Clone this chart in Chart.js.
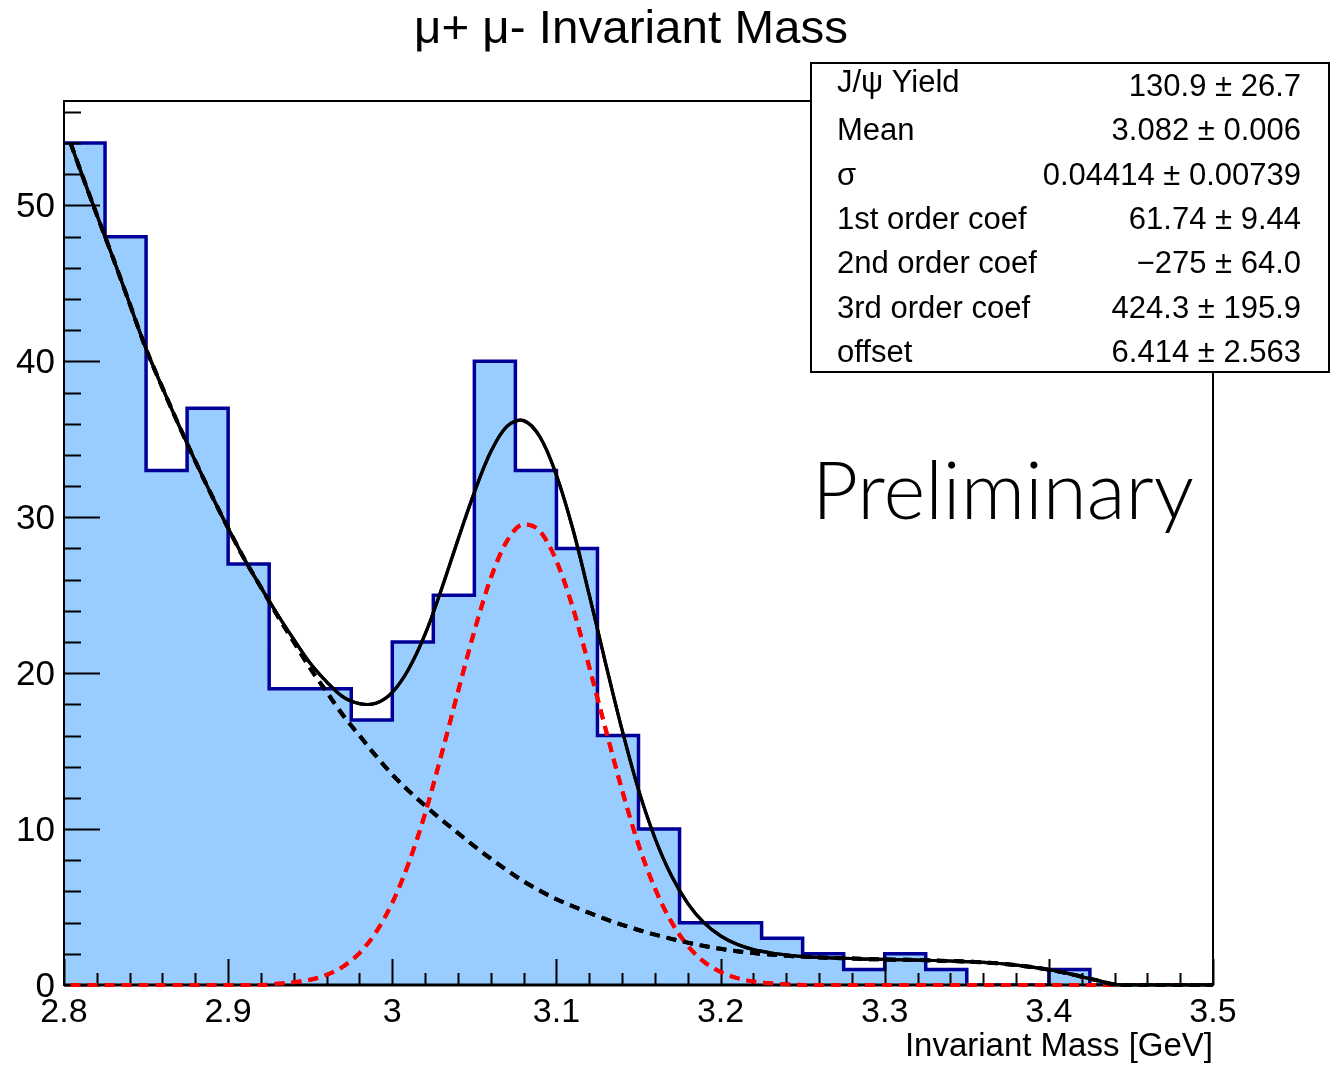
<!DOCTYPE html>
<html>
<head>
<meta charset="utf-8">
<script src="https://cdn.jsdelivr.net/npm/chart.js@4/dist/chart.umd.min.js"></script>
<style>
  body { margin: 0; background: #fff; }
  canvas { display: block; }
</style>
</head>
<body>
<canvas id="massChart" width="1334" height="1065"></canvas>
<script>
// histogram: 28 bins of 25 MeV from 2.8 to 3.5 GeV
const binLow = 2.8;
const binWidth = 0.025;
const counts = [54, 48, 33, 37, 27, 19, 19, 17, 22, 25, 40, 33, 28, 16, 10, 4, 4, 3, 2, 1, 2, 1, 0, 0, 1, 0, 0, 0];

const curveX = [2.804].concat(Array.from({ length: 70 }, (_, i) => +(2.81 + i * 0.01).toFixed(2)));

const totalFit = [54.0, 52.25, 49.4, 46.6, 43.7, 40.8, 38.3, 35.9, 33.6, 31.4,
    29.3, 27.3, 25.5, 23.78, 22.17, 20.64, 19.45, 18.48, 18.05, 18.07,
    18.77, 20.27, 22.5, 25.4, 28.55, 31.6, 34.2, 35.85, 36.2, 35.15,
    32.7, 29.25, 25.02, 20.62, 16.36, 12.53, 9.43, 7.02, 5.24, 3.98,
    3.15, 2.61, 2.27, 2.07, 1.93, 1.82, 1.77, 1.73, 1.7, 1.66,
    1.64, 1.62, 1.6, 1.57, 1.54, 1.5, 1.45, 1.38, 1.28, 1.15,
    0.98, 0.78, 0.53, 0.28, 0.03, 0, 0, 0, 0, 0, 0];

const backgroundFit = [54.0, 52.25, 49.4, 46.6, 43.7, 40.8, 38.3, 35.9, 33.6, 31.4,
    29.3, 27.3, 25.5, 23.7, 22.0, 20.3, 18.8, 17.3, 16.0, 14.7,
    13.5, 12.45, 11.5, 10.6, 9.75, 8.9, 8.1, 7.35, 6.65, 6.05,
    5.5, 5.05, 4.62, 4.22, 3.86, 3.53, 3.23, 2.96, 2.72, 2.5,
    2.32, 2.17, 2.05, 1.96, 1.88, 1.82, 1.77, 1.73, 1.7, 1.66,
    1.64, 1.62, 1.6, 1.57, 1.54, 1.5, 1.45, 1.38, 1.28, 1.15,
    0.98, 0.78, 0.53, 0.28, 0.03, 0, 0, 0, 0, 0, 0];

const signalFit = [0, 0, 0, 0, 0, 0, 0, 0, 0, 0,
    0, 0, 0, 0.08, 0.17, 0.34, 0.65, 1.18, 2.05, 3.37,
    5.27, 7.82, 11.0, 14.8, 18.8, 22.7, 26.1, 28.5, 29.55, 29.1,
    27.2, 24.2, 20.4, 16.4, 12.5, 9.0, 6.2, 4.06, 2.52, 1.48,
    0.83, 0.44, 0.22, 0.11, 0.05, 0, 0, 0, 0, 0,
    0, 0, 0, 0, 0, 0, 0, 0, 0, 0,
    0, 0, 0, 0, 0, 0, 0, 0, 0, 0, 0];

const xTickValues = [2.8, 2.9, 3.0, 3.1, 3.2, 3.3, 3.4, 3.5];
const xTickLabels = ['2.8', '2.9', '3', '3.1', '3.2', '3.3', '3.4', '3.5'];
const yTickValues = [0, 10, 20, 30, 40, 50];

const statLabels = ['J/\u03c8 Yield', 'Mean', '\u03c3', '1st order coef', '2nd order coef', '3rd order coef', 'offset'];
const statValues = ['130.9 \u00b1 26.7', '3.082 \u00b1 0.006', '0.04414 \u00b1 0.00739', '61.74 \u00b1 9.44',
    '\u2212275 \u00b1 64.0', '424.3 \u00b1 195.9', '6.414 \u00b1 2.563'];

const yMax = 56.7;
const FONT = '"Liberation Sans", Arial, sans-serif';

const histPoints = counts.map((c, i) => ({ x: binLow + i * binWidth, y: c }));
histPoints.push({ x: binLow + counts.length * binWidth, y: counts[counts.length - 1] });

const toPoints = (ys) => curveX.map((x, i) => ({ x: x, y: ys[i] }));

function drawText(ctx, text, x, y, font, align, width) {
    ctx.font = font;
    ctx.textAlign = align;
    ctx.textBaseline = 'alphabetic';
    if (width) {
        const s = width / ctx.measureText(text).width;
        ctx.save();
        ctx.translate(x, y);
        ctx.scale(s, 1);
        ctx.fillText(text, 0, 0);
        ctx.restore();
    } else {
        ctx.fillText(text, x, y);
    }
}

// ROOT style frame, inward ticks, labels, stats box
const rootFrame = {
    id: 'rootFrame',
    afterDatasetsDraw(chart) {
        const { ctx, chartArea: a, scales: { x, y } } = chart;
        ctx.save();
        ctx.strokeStyle = '#000';
        ctx.fillStyle = '#000';

        // ticks
        ctx.lineWidth = 2;
        ctx.beginPath();
        for (let i = 0; i <= 28; i++) {
            const py = Math.round(y.getPixelForValue(i * 2)) + 0.5;
            const len = i % 5 === 0 ? 36 : 17;
            ctx.moveTo(a.left, py);
            ctx.lineTo(a.left + len, py);
        }
        for (let i = 0; i <= 35; i++) {
            const px = Math.round(x.getPixelForValue(binLow + i * 0.02)) + 0.5;
            const len = i % 5 === 0 ? 26 : 12;
            ctx.moveTo(px, a.bottom);
            ctx.lineTo(px, a.bottom - len);
        }
        ctx.stroke();

        // frame
        ctx.lineWidth = 2;
        ctx.strokeRect(a.left, a.top, a.right - a.left, a.bottom - a.top);
        ctx.lineWidth = 3;
        ctx.beginPath();
        ctx.moveTo(a.left, a.bottom);
        ctx.lineTo(a.right, a.bottom);
        ctx.stroke();
        ctx.restore();

        // fit curves go over the axis line, as in the original
        [2, 1, 0].forEach((i) => chart.getDatasetMeta(i).controller.draw());

        ctx.save();
        ctx.fillStyle = '#000';
        ctx.strokeStyle = '#000';

        // tick labels
        xTickValues.forEach((v, i) => {
            drawText(ctx, xTickLabels[i], x.getPixelForValue(v), 1022, '34px ' + FONT, 'center');
        });
        yTickValues.forEach((v) => {
            drawText(ctx, String(v), 55, y.getPixelForValue(v) + 12, '35px ' + FONT, 'right');
        });

        // titles
        drawText(ctx, '\u03bc+ \u03bc- Invariant Mass', 631, 43, '46px ' + FONT, 'center', 434);
        drawText(ctx, 'Invariant Mass [GeV]', a.right, 1056, '33px ' + FONT, 'right');

        // stats box
        ctx.fillStyle = '#fff';
        ctx.fillRect(811, 63, 518, 309);
        ctx.lineWidth = 2;
        ctx.strokeRect(811, 63, 518, 309);
        ctx.fillStyle = '#000';
        statLabels.forEach((t, i) => {
            const base = 96 + i * 44.3;
            drawText(ctx, t, 837, i === 0 ? base - 4 : base, '31px ' + FONT, 'left');
            drawText(ctx, statValues[i], 1301, base, '31px ' + FONT, 'right');
        });

        drawText(ctx, 'Preliminary', 812, 519, '300 80px Lato, "Open Sans", sans-serif', 'left', 382);
        ctx.restore();
    }
};

new Chart(document.getElementById('massChart'), {
    type: 'line',
    data: {
        datasets: [
            {
                label: 'total fit',
                data: toPoints(totalFit),
                borderColor: '#000000',
                borderWidth: 3.2,
                tension: 0.35,
                pointRadius: 0,
                fill: false
            },
            {
                label: 'background',
                data: toPoints(backgroundFit),
                borderColor: '#000000',
                borderWidth: 4,
                borderDash: [10, 7],
                cubicInterpolationMode: 'monotone',
                pointRadius: 0,
                fill: false
            },
            {
                label: 'J/psi signal',
                data: toPoints(signalFit),
                borderColor: '#ff0000',
                borderWidth: 4,
                borderDash: [10, 7],
                cubicInterpolationMode: 'monotone',
                pointRadius: 0,
                fill: false
            },
            {
                label: 'data',
                data: histPoints,
                stepped: true,
                borderColor: '#000099',
                borderWidth: 3.5,
                backgroundColor: '#99ccff',
                pointRadius: 0,
                fill: 'origin'
            }
        ]
    },
    options: {
        responsive: false,
        animation: false,
        devicePixelRatio: 1,
        events: [],
        layout: { padding: { left: 64, top: 101, right: 121, bottom: 80 } },
        plugins: {
            legend: { display: false },
            tooltip: { enabled: false }
        },
        scales: {
            x: { type: 'linear', min: 2.8, max: 3.5, display: false },
            y: { type: 'linear', min: 0, max: yMax, display: false }
        }
    },
    plugins: [rootFrame]
});
</script>
</body>
</html>
